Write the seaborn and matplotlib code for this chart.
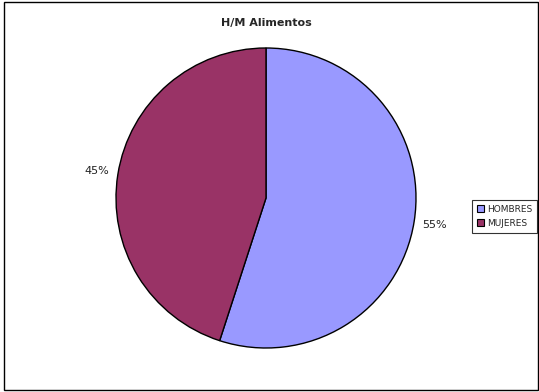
import numpy as np
import seaborn as sns
import matplotlib.pyplot as plt
from matplotlib.patches import Rectangle

labels = ['HOMBRES', 'MUJERES']
values = [55, 45]
colors = ['#9999FF', '#993366']
title = 'H/M Alimentos'

sns.set_theme(style='white')
plt.rcParams['font.family'] = ['DejaVu Sans']

fig = plt.figure(figsize=(5.39, 3.92), dpi=100)
ax = fig.add_axes([116 / 539, 44 / 392, 300 / 539, 300 / 392])

wedges, texts, autotexts = ax.pie(values, colors=colors, startangle=90, counterclock=False,
                                  autopct='%1.0f%%', pctdistance=1.14,
                                  wedgeprops={'edgecolor': 'black', 'linewidth': 1})
for t in autotexts:
    t.set_fontsize(8)
    t.set_color('#222222')
ax.set_xlim(-1, 1)
ax.set_ylim(-1, 1)
ax.set_aspect('equal')
ax.axis('off')

fig.text(266 / 539, 1 - 23 / 392, title, ha='center', va='center', fontsize=8, fontweight='bold')

leg = fig.legend(wedges, labels, loc='upper left', bbox_to_anchor=(472 / 539, 1 - 200 / 392),
                 fontsize=6.5, frameon=True, fancybox=False, edgecolor='black',
                 handlelength=0.8, handleheight=0.8, handletextpad=0.3,
                 borderpad=0.55, labelspacing=0.55, borderaxespad=0)
leg.get_frame().set_linewidth(0.8)
for h in leg.legend_handles:
    h.set_edgecolor('black')
    h.set_linewidth(0.8)

fig.patches.append(Rectangle((4 / 539, 2 / 392), 534 / 539, 388 / 392, transform=fig.transFigure,
                             fill=False, edgecolor='black', linewidth=1))

fig.savefig('out.png', dpi=100)
